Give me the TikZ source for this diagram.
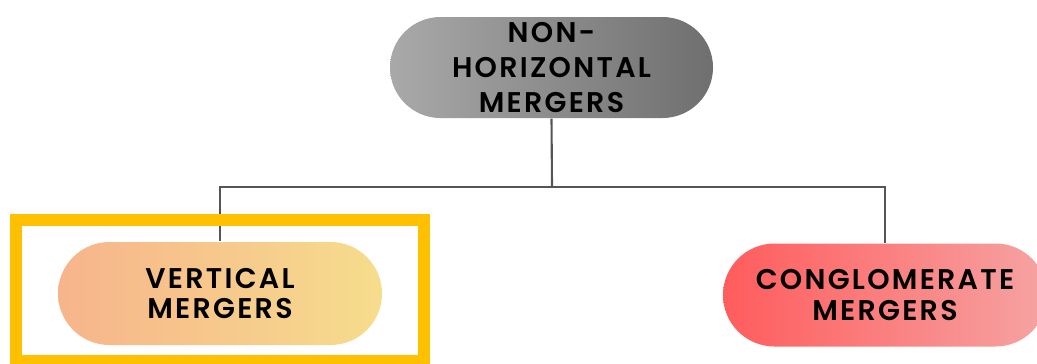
\documentclass[tikz,border=0pt]{standalone}
\usepackage{fontspec}
\setmainfont{Poppins}[BoldFont={Poppins SemiBold}, LetterSpace=8]
\usepackage{tikz}
\usetikzlibrary{shapes.misc}

\definecolor{greyL}{HTML}{A9A9A9}
\definecolor{greyR}{HTML}{6F6F6F}
\definecolor{peach}{HTML}{F7B48B}
\definecolor{sand}{HTML}{F6DD8C}
\definecolor{redL}{HTML}{FF5C5C}
\definecolor{redR}{HTML}{F6A3A3}
\definecolor{frame}{HTML}{FFC000}
\definecolor{wire}{HTML}{555555}

\begin{document}
\begin{tikzpicture}[
    pill/.style={rounded rectangle, minimum width=3.24cm, minimum height=1.03cm,
      inner sep=0pt, align=center, text=black,
      font=\fontsize{8.1}{8.8}\selectfont\bfseries},
    wire/.style={draw=wire, line width=0.6pt}]
  \useasboundingbox (0,0) rectangle (10.37,-3.63);
  % top box and the two branches
  \node[pill, left color=greyL, right color=greyR, minimum width=3.23cm, minimum height=1.01cm,
    font=\fontsize{8.1}{10}\selectfont\bfseries]
    (nonhor) at (5.515,-0.675) {NON-\\HORIZONTAL\\MERGERS};
  \node[pill, left color=peach, right color=sand] (vert) at (2.20,-2.935) {VERTICAL\\MERGERS};
  \node[pill, left color=redL, right color=redR] (cong) at (8.85,-2.95) {CONGLOMERATE\\MERGERS};
  \coordinate (split) at (5.52,-1.87);
  \draw[wire] (nonhor.south) -- (split);
  \draw[wire] (split) -| (vert.north);
  \draw[wire] (split) -| (cong.north);
  % highlight frame
  \draw[frame, line width=3.4pt] (0.16,-2.20) rectangle (4.24,-3.61);
\end{tikzpicture}
\end{document}
